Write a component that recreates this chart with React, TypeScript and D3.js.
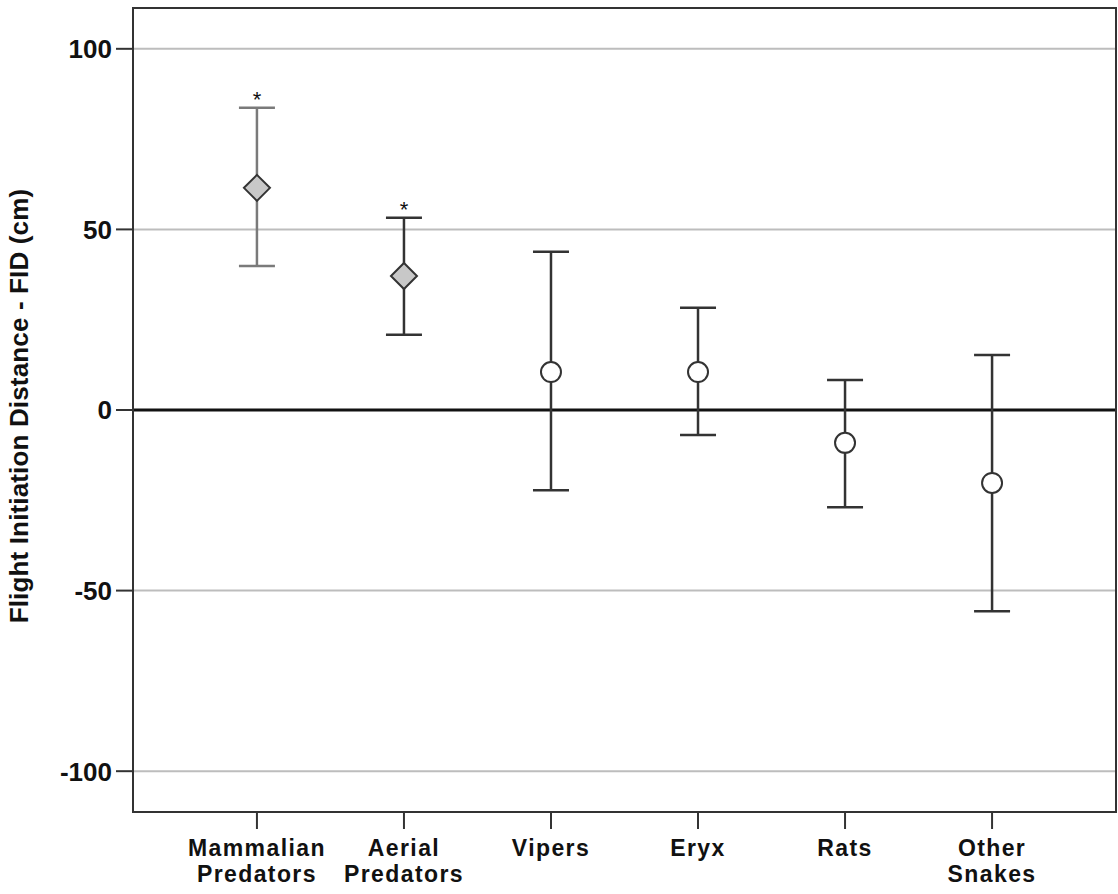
import React from "react";
import * as d3 from "d3";

const categories = ["Mammalian Predators", "Aerial Predators", "Vipers", "Eryx", "Rats", "Other Snakes"];
const labelLines = [["Mammalian", "Predators"], ["Aerial", "Predators"], ["Vipers"], ["Eryx"], ["Rats"], ["Other", "Snakes"]];
const means = [61.5, 37.1, 10.5, 10.5, -9.1, -20.2];
const upper = [83.7, 53.2, 43.8, 28.3, 8.3, 15.2];
const lower = [39.9, 20.8, -22.2, -6.9, -26.9, -55.7];
const significant = [true, true, false, false, false, false];
const yTicks = [100, 50, 0, -50, -100];
const yTitle = "Flight Initiation Distance - FID (cm)";

const W = 1118;
const H = 894;
const plot = { left: 133, right: 1116, top: 8, bottom: 812 };
const FONT = "'Liberation Sans', Arial, sans-serif";

export default function App() {
  const x = d3
    .scalePoint<string>()
    .domain(categories)
    .range([plot.left, plot.right])
    .padding(0.843);
  const y = d3.scaleLinear().domain([-111.3, 111.3]).range([plot.bottom, plot.top]);
  const capW = 18;
  const dr = 13;

  return (
    <svg
      width={W}
      height={H}
      style={{ position: "absolute", left: 0, top: 0, background: "#fff" }}
      fontFamily={FONT}
    >
      <rect x={0} y={0} width={W} height={H} fill="#fff" />
      {yTicks
        .filter((t) => t !== 0)
        .map((t) => (
          <line key={"g" + t} x1={plot.left} x2={plot.right} y1={y(t)} y2={y(t)} stroke="#bdbdbd" strokeWidth={2} />
        ))}
      <line x1={plot.left} x2={plot.right} y1={y(0)} y2={y(0)} stroke="#111" strokeWidth={3} />
      <rect
        x={plot.left}
        y={plot.top}
        width={plot.right - plot.left}
        height={plot.bottom - plot.top}
        fill="none"
        stroke="#333"
        strokeWidth={2}
      />
      {yTicks.map((t) => (
        <g key={"yt" + t}>
          <line x1={plot.left - 17} x2={plot.left} y1={y(t)} y2={y(t)} stroke="#333" strokeWidth={2} />
          <text x={112} y={y(t)} dy="0.36em" textAnchor="end" fontSize={26} fontWeight={600} fill="#111">
            {t}
          </text>
        </g>
      ))}
      <text
        transform={`translate(28,406) rotate(-90)`}
        textAnchor="middle"
        fontSize={26}
        fontWeight="bold"
        letterSpacing={0.15}
        fill="#111"
      >
        {yTitle}
      </text>
      {categories.map((c, i) => {
        const cx = x(c) as number;
        return (
          <g key={"xt" + c}>
            <line x1={cx} x2={cx} y1={plot.bottom} y2={plot.bottom + 17} stroke="#333" strokeWidth={2} />
            {labelLines[i].map((ln, j) => (
              <text
                key={j}
                x={cx}
                y={856 + j * 26}
                textAnchor="middle"
                fontSize={23}
                letterSpacing={1.4}
                fontWeight="bold"
                fill="#111"
              >
                {ln}
              </text>
            ))}
          </g>
        );
      })}
      {categories.map((c, i) => {
        const cx = x(c) as number;
        const col = i === 0 ? "#7a7a7a" : "#333";
        const yu = y(upper[i]);
        const yl = y(lower[i]);
        const ym = y(means[i]);
        const p = d3.path();
        p.moveTo(cx, ym - dr);
        p.lineTo(cx + dr, ym);
        p.lineTo(cx, ym + dr);
        p.lineTo(cx - dr, ym);
        p.closePath();
        return (
          <g key={"eb" + c}>
            <line x1={cx} x2={cx} y1={yu} y2={yl} stroke={col} strokeWidth={2.5} />
            <line x1={cx - capW} x2={cx + capW} y1={yu} y2={yu} stroke={col} strokeWidth={2.5} />
            <line x1={cx - capW} x2={cx + capW} y1={yl} y2={yl} stroke={col} strokeWidth={2.5} />
            {significant[i] ? (
              <path d={p.toString()} fill="#c8c8c8" stroke="#333" strokeWidth={2} />
            ) : (
              <circle cx={cx} cy={ym} r={10} fill="#fff" stroke="#333" strokeWidth={2} />
            )}
            {significant[i] && (
              <text x={cx} y={yu - 1} textAnchor="middle" fontSize={22} fill="#111">
                *
              </text>
            )}
          </g>
        );
      })}
    </svg>
  );
}
